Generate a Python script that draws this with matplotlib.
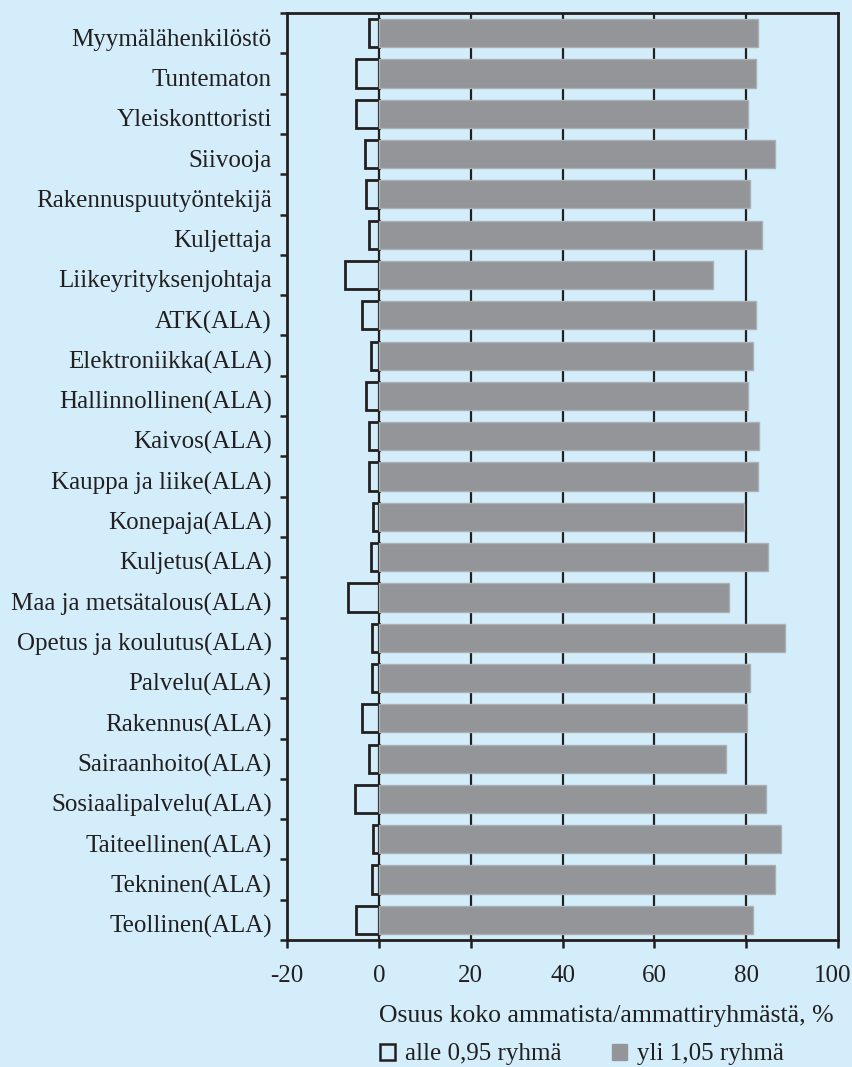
import matplotlib
matplotlib.use("Agg")
import matplotlib.pyplot as plt
import matplotlib.transforms as mtransforms
import numpy as np
from matplotlib.patches import Patch

categories = [
    "Myymälähenkilöstö", "Tuntematon", "Yleiskonttoristi", "Siivooja",
    "Rakennuspuutyöntekijä", "Kuljettaja", "Liikeyrityksenjohtaja", "ATK(ALA)",
    "Elektroniikka(ALA)", "Hallinnollinen(ALA)", "Kaivos(ALA)",
    "Kauppa ja liike(ALA)", "Konepaja(ALA)", "Kuljetus(ALA)",
    "Maa ja metsätalous(ALA)", "Opetus ja koulutus(ALA)", "Palvelu(ALA)",
    "Rakennus(ALA)", "Sairaanhoito(ALA)", "Sosiaalipalvelu(ALA)",
    "Taiteellinen(ALA)", "Tekninen(ALA)", "Teollinen(ALA)",
]
alle_095 = [-2.1, -4.9, -4.9, -3.0, -2.7, -2.2, -7.4, -3.6, -1.7, -2.7, -2.1,
            -2.1, -1.2, -1.8, -6.8, -1.5, -1.5, -3.6, -2.1, -5.3, -1.2, -1.5, -4.9]
yli_105 = [82.5, 82.2, 80.5, 86.3, 80.9, 83.4, 72.7, 82.2, 81.5, 80.5, 82.9,
           82.5, 79.5, 84.7, 76.2, 88.5, 80.9, 80.2, 75.5, 84.4, 87.6, 86.3, 81.5]
xticks = [-20, 0, 20, 40, 60, 80, 100]
xlabel = "Osuus koko ammatista/ammattiryhmästä, %"
legend_labels = ["alle 0,95 ryhmä", "yli 1,05 ryhmä"]

bg = "#d3eefa"
grey = "#939598"
dark = "#231f20"
fs = 18

plt.rcParams["font.family"] = ["Liberation Serif", "DejaVu Serif"]

fig = plt.figure(figsize=(8.53, 10.67), dpi=100, facecolor=bg)
ax = fig.add_axes([0.3365, 0.119, 0.9824 - 0.3365, 0.9878 - 0.119])
ax.set_facecolor(bg)

y = np.arange(len(categories))
ax.barh(y, alle_095, height=0.7, facecolor="none", edgecolor=dark, linewidth=2.0, zorder=3)
ax.barh(y, yli_105, height=0.7, color=grey, edgecolor="#aab0b4", linewidth=1.0, zorder=4)

ax.set_xlim(-20, 100)
ax.set_ylim(len(categories) - 0.5, -0.5)
ax.set_xticks(xticks)
ax.set_xticklabels(["-20", "0", "20", "40", "60", "80", "100"])
for xv in [0, 20, 40, 60, 80]:
    ax.axvline(xv, color=dark, linewidth=1.6, zorder=1)

ax.set_yticks(np.arange(len(categories) + 1) - 0.5)
ax.set_yticklabels([])
ax.set_yticks(y, minor=True)
ax.set_yticklabels(categories, minor=True, fontsize=fs, color=dark)
ax.tick_params(axis="y", which="minor", length=0, pad=11)
ax.tick_params(axis="y", which="major", length=5, width=1.8, color=dark, direction="out")
ax.tick_params(axis="x", length=6, width=1.8, color=dark, direction="out",
               labelsize=fs, labelcolor=dark, pad=12)
for s in ax.spines.values():
    s.set_linewidth(2.0)
    s.set_color(dark)

offset = mtransforms.ScaledTranslation(0, -0.04, fig.dpi_scale_trans)
for lab in ax.get_yticklabels(minor=True):
    lab.set_transform(lab.get_transform() + offset)
last = ax.get_xticklabels()[-1]
last.set_transform(last.get_transform() + mtransforms.ScaledTranslation(-0.05, 0, fig.dpi_scale_trans))

ax.set_xlabel(xlabel, fontsize=fs + 0.5, color=dark)
ax.xaxis.set_label_coords(0.58, -0.07)

handles = [Patch(facecolor="none", edgecolor=dark, linewidth=1.8),
           Patch(facecolor=grey, edgecolor=grey)]
fig.legend(handles, legend_labels, loc="center left", bbox_to_anchor=(368 / 853, 0.0118),
           ncol=2, frameon=False, fontsize=fs, handlelength=0.6, handleheight=0.6,
           handletextpad=0.4, columnspacing=2.0, borderpad=0, labelcolor=dark)

fig.savefig("out.png", dpi=100, facecolor=bg)
